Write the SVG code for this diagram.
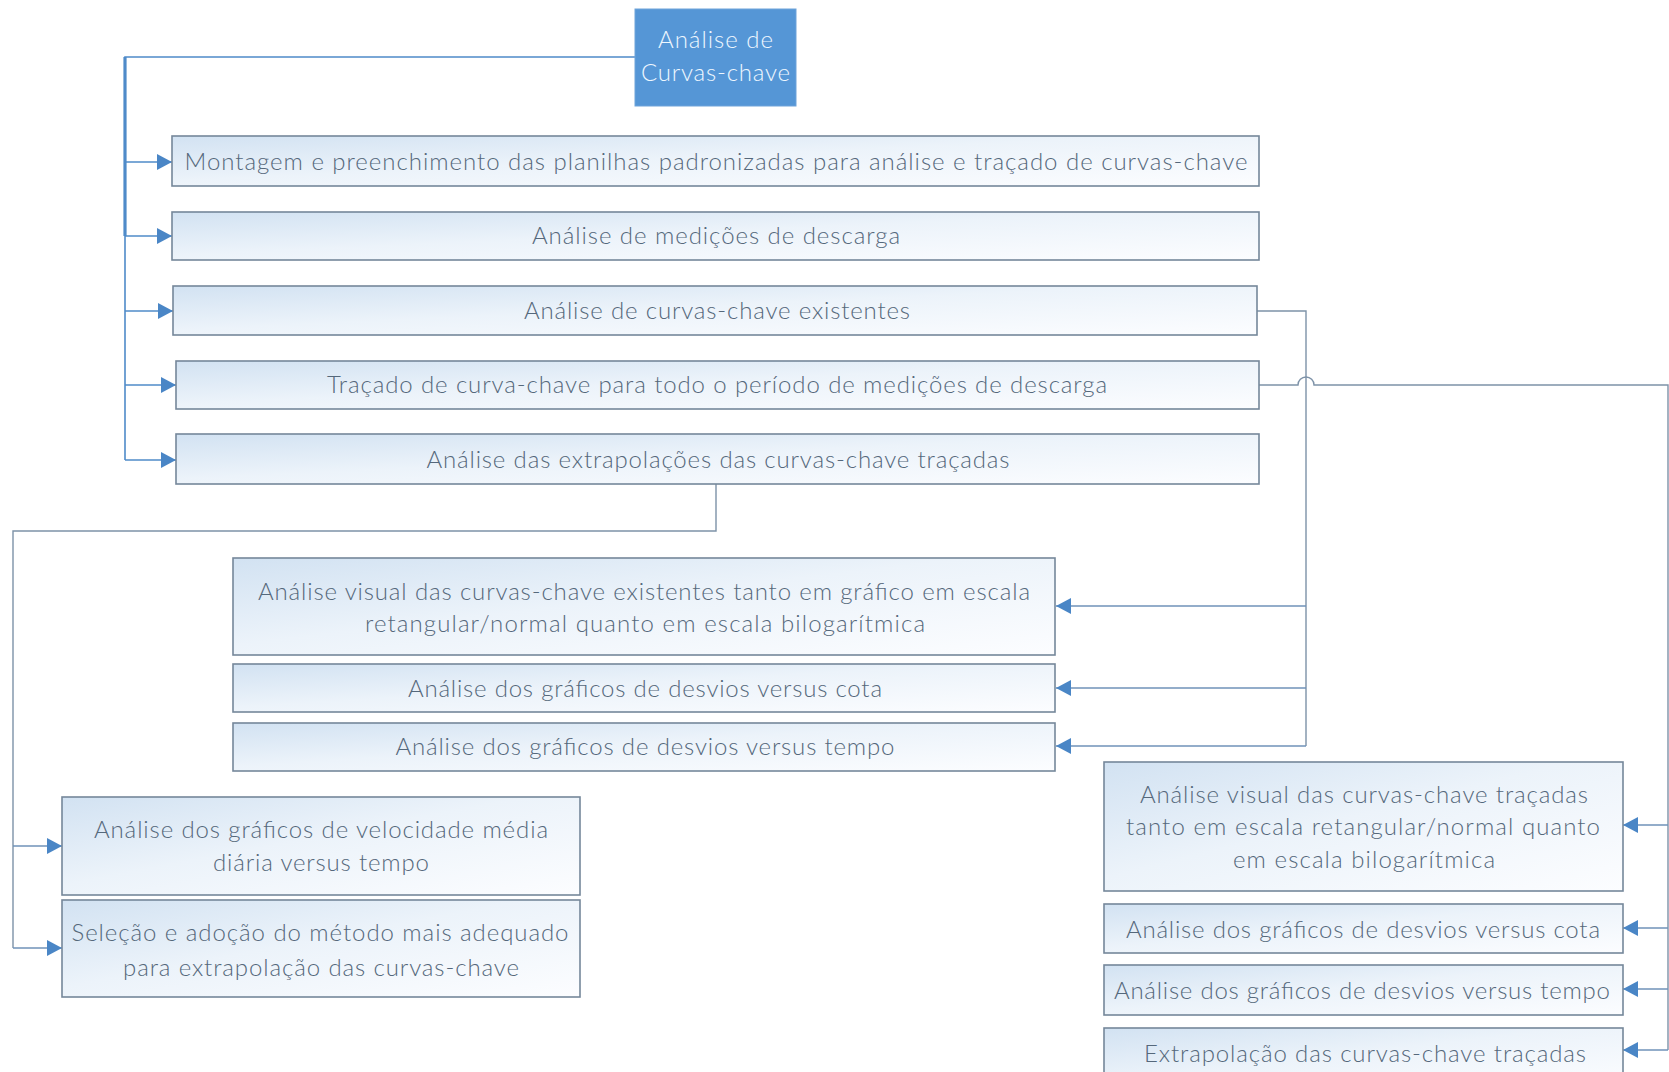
<svg xmlns="http://www.w3.org/2000/svg" width="1669" height="1072" viewBox="0 0 1669 1072">
<defs>
<linearGradient id="bx" x1="0" y1="0" x2="1" y2="1">
<stop offset="0" stop-color="#d2e2f2"/>
<stop offset="0.45" stop-color="#ecf3fa"/>
<stop offset="1" stop-color="#fcfdff"/>
</linearGradient>
<marker id="ar" markerUnits="userSpaceOnUse" markerWidth="16" markerHeight="18" refX="15" refY="9" orient="auto">
<path d="M0,1 L15,9 L0,17 Z" fill="#4a86c6"/>
</marker>
</defs>
<style>
.box{fill:url(#bx);stroke:#75879a;stroke-width:1.6}
.t{font-family:"Lato","Open Sans","Liberation Sans",sans-serif;font-weight:300;font-size:24px;fill:#55687b;text-anchor:middle}
.tw{font-family:"Lato","Open Sans","Liberation Sans",sans-serif;font-weight:300;font-size:24px;fill:#eef7ff;text-anchor:middle}
.c{fill:none;stroke:#4f8bc9;stroke-width:1.6}
.g{fill:none;stroke:#7d92a8;stroke-width:1.4}
.ga{fill:none;stroke:#6f92b8;stroke-width:1.4}
</style>
<rect width="1669" height="1072" fill="#ffffff"/>

<g id="connectors">
<path class="c" d="M635,57 H125 V460"/>
<path d="M125,57 V236" fill="none" stroke="#4f8bc9" stroke-width="3.2"/>
<path class="c" d="M125,162 H172" marker-end="url(#ar)"/>
<path class="c" d="M125,236 H172" marker-end="url(#ar)"/>
<path class="c" d="M125,311 H173" marker-end="url(#ar)"/>
<path class="c" d="M125,385 H176" marker-end="url(#ar)"/>
<path class="c" d="M125,460 H176" marker-end="url(#ar)"/>

<path class="g" d="M1257,311 H1306 V746"/>
<path class="ga" d="M1306,606 H1056" marker-end="url(#ar)"/>
<path class="ga" d="M1306,688 H1056" marker-end="url(#ar)"/>
<path class="ga" d="M1306,746 H1056" marker-end="url(#ar)"/>

<path class="g" d="M1259,385 H1298 A8,8 0 0 1 1314,385 H1668 V1050"/>
<path class="ga" d="M1668,825 H1623" marker-end="url(#ar)"/>
<path class="ga" d="M1668,928 H1623" marker-end="url(#ar)"/>
<path class="ga" d="M1668,989 H1623" marker-end="url(#ar)"/>
<path class="ga" d="M1668,1050 H1623" marker-end="url(#ar)"/>

<path class="g" d="M716,484 V531 H13 V948"/>
<path class="ga" d="M13,846 H62" marker-end="url(#ar)"/>
<path class="ga" d="M13,948 H62" marker-end="url(#ar)"/>
</g>

<g id="root">
<rect x="635" y="9" width="161" height="97" fill="#5596d6" stroke="#6fa3da" stroke-width="1"/>
<text class="tw" x="715.5" y="48" textLength="115" lengthAdjust="spacing">Análise de</text>
<text class="tw" x="715.5" y="81" textLength="149" lengthAdjust="spacing">Curvas-chave</text>
</g>

<g id="n1">
<rect class="box" x="172" y="136" width="1087" height="50"/>
<text class="t" x="716" y="170" textLength="1063" lengthAdjust="spacing">Montagem e preenchimento das planilhas padronizadas para análise e traçado de curvas-chave</text>
</g>
<g id="n2">
<rect class="box" x="172" y="212" width="1087" height="48"/>
<text class="t" x="716" y="244" textLength="368" lengthAdjust="spacing">Análise de medições de descarga</text>
</g>
<g id="n3">
<rect class="box" x="173" y="286" width="1084" height="49"/>
<text class="t" x="717" y="319" textLength="386" lengthAdjust="spacing">Análise de curvas-chave existentes</text>
</g>
<g id="n4">
<rect class="box" x="176" y="361" width="1083" height="48"/>
<text class="t" x="717" y="393" textLength="780" lengthAdjust="spacing">Traçado de curva-chave para todo o período de medições de descarga</text>
</g>
<g id="n5">
<rect class="box" x="176" y="434" width="1083" height="50"/>
<text class="t" x="718" y="468" textLength="583" lengthAdjust="spacing">Análise das extrapolações das curvas-chave traçadas</text>
</g>

<g id="n6">
<rect class="box" x="233" y="558" width="822" height="97"/>
<text class="t" x="644" y="600" textLength="772" lengthAdjust="spacing">Análise visual das curvas-chave existentes tanto em gráfico em escala</text>
<text class="t" x="645" y="632" textLength="560" lengthAdjust="spacing">retangular/normal quanto em escala bilogarítmica</text>
</g>
<g id="n7">
<rect class="box" x="233" y="664" width="822" height="48"/>
<text class="t" x="645" y="697" textLength="474" lengthAdjust="spacing">Análise dos gráficos de desvios versus cota</text>
</g>
<g id="n8">
<rect class="box" x="233" y="723" width="822" height="48"/>
<text class="t" x="645" y="755" textLength="499" lengthAdjust="spacing">Análise dos gráficos de desvios versus tempo</text>
</g>

<g id="n9">
<rect class="box" x="62" y="797" width="518" height="98"/>
<text class="t" x="321" y="838" textLength="454" lengthAdjust="spacing">Análise dos gráficos de velocidade média</text>
<text class="t" x="321" y="871" textLength="216" lengthAdjust="spacing">diária versus tempo</text>
</g>
<g id="n10">
<rect class="box" x="62" y="900" width="518" height="97"/>
<text class="t" x="320" y="941" textLength="497" lengthAdjust="spacing">Seleção e adoção do método mais adequado</text>
<text class="t" x="321" y="976" textLength="396" lengthAdjust="spacing">para extrapolação das curvas-chave</text>
</g>

<g id="n11">
<rect class="box" x="1104" y="762" width="519" height="129"/>
<text class="t" x="1364" y="803" textLength="448" lengthAdjust="spacing">Análise visual das curvas-chave traçadas</text>
<text class="t" x="1363" y="835" textLength="474" lengthAdjust="spacing">tanto em escala retangular/normal quanto</text>
<text class="t" x="1364" y="868" textLength="262" lengthAdjust="spacing">em escala bilogarítmica</text>
</g>
<g id="n12">
<rect class="box" x="1104" y="904" width="519" height="49"/>
<text class="t" x="1363" y="938" textLength="474" lengthAdjust="spacing">Análise dos gráficos de desvios versus cota</text>
</g>
<g id="n13">
<rect class="box" x="1104" y="965" width="519" height="50"/>
<text class="t" x="1362" y="999" textLength="496" lengthAdjust="spacing">Análise dos gráficos de desvios versus tempo</text>
</g>
<g id="n14">
<rect class="box" x="1104" y="1028" width="519" height="60"/>
<text class="t" x="1365" y="1062" textLength="442" lengthAdjust="spacing">Extrapolação das curvas-chave traçadas</text>
</g>
</svg>
